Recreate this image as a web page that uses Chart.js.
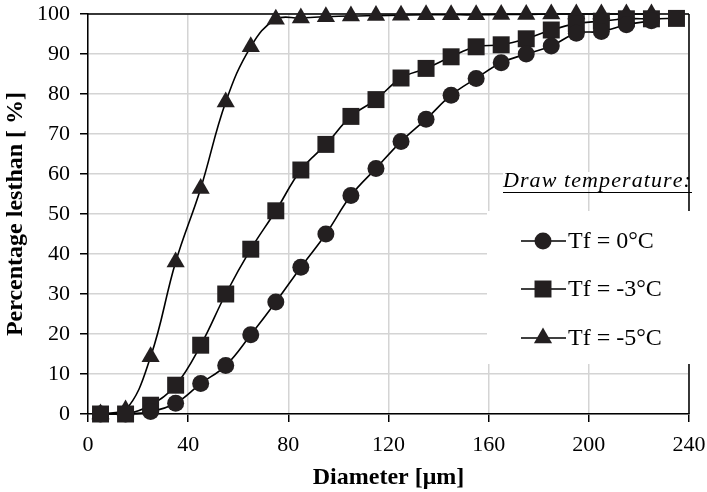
<!DOCTYPE html>
<html>
<head>
<meta charset="utf-8">
<script src="https://cdn.jsdelivr.net/npm/chart.js@4.4.1/dist/chart.umd.min.js"></script>
<style>
html,body{margin:0;padding:0;background:#fff;}
#wrap{width:707px;height:492px;position:relative;}
</style>
</head>
<body>
<div id="wrap"><canvas id="c" width="707" height="492"></canvas></div>
<script>
// ---- data ----
const diameters = [5,15,25,35,45,55,65,75,85,95,105,115,125,135,145,155,165,175,185,195,205,215,225,235];
const tf0 = [0,0,0.6,2.7,7.6,12.1,19.8,28,36.7,45,54.6,61.4,68.1,73.7,79.7,83.9,87.8,90,92,95.2,95.6,97.3,98.3];
const tfm3 = [0,0,2.2,7.2,17.2,30,41.2,50.8,61,67.4,74.4,78.6,84,86.4,89.3,91.8,92.3,93.8,96,97.6,98.2,98.8,98.8,98.9];
const tfm5 = [0,1,14.3,38,56.4,78,91.8,98.7,99,99.3,99.5,99.6,99.7,99.8,99.8,99.8,99.9,99.9,100,100,100,100,100];
const seriesNames = ['Tf = 0°C','Tf = -3°C','Tf = -5°C'];
const xTicks = [0,40,80,120,160,200,240];
const yTicks = [0,10,20,30,40,50,60,70,80,90,100];
const legendTitle = 'Draw temperature:';
const xTitle = 'Diameter [μm]';
const yTitle = 'Percentage lesthan [ %]';

const MARK = '#231f20';
const SERIF = "'Liberation Serif','Times New Roman',serif";

function pts(vals){ return vals.map((v,i)=>({x:diameters[i], y:v})); }

const styles = [
  {pointStyle:'circle', radius:8.5},
  {pointStyle:'rect', radius:12},
  {pointStyle:'triangle', radius:10.5}
];
const allVals = [tf0, tfm3, tfm5];

const datasets = allVals.map((vals,i)=>({
  label: seriesNames[i],
  data: pts(vals),
  borderColor: '#000',
  borderWidth: 1.6,
  backgroundColor: MARK,
  pointBackgroundColor: MARK,
  pointBorderColor: MARK,
  pointBorderWidth: 0,
  pointStyle: styles[i].pointStyle,
  pointRadius: styles[i].radius,
  pointHoverRadius: styles[i].radius,
  tension: 0.4,
  fill: false,
  clip: false,
  order: i
}));

function drawMarker(ctx, style, x, y, r){
  ctx.fillStyle = MARK;
  ctx.beginPath();
  if(style==='circle'){ ctx.arc(x,y,r,0,Math.PI*2); }
  else if(style==='rect'){ const s=Math.SQRT1_2*r; ctx.rect(x-s,y-s,2*s,2*s); }
  else { // triangle
    ctx.moveTo(x, y - r);
    ctx.lineTo(x + r*Math.cos(Math.PI/6), y + r*0.5);
    ctx.lineTo(x - r*Math.cos(Math.PI/6), y + r*0.5);
    ctx.closePath();
  }
  ctx.fill();
}

function noPad(s){ s.paddingLeft=0; s.paddingRight=0; s.paddingTop=0; s.paddingBottom=0; }

const framePlugin = {
  id:'frame',
  beforeDatasetsDraw(chart){
    const {ctx, chartArea:a} = chart;
    ctx.save();
    // hide the 60 gridline under the legend title
    ctx.fillStyle='#fff';
    ctx.fillRect(503, chart.scales.y.getPixelForValue(60)-2, a.right-503, 4);
    ctx.strokeStyle='#000'; ctx.lineWidth=1.5;
    ctx.beginPath();
    ctx.moveTo(a.left, a.top); ctx.lineTo(a.right, a.top);
    ctx.moveTo(a.right, a.top); ctx.lineTo(a.right, a.bottom);
    ctx.stroke();
    ctx.restore();
  },
  afterDraw(chart){
    const {ctx} = chart;
    ctx.save();
    // legend box
    ctx.fillStyle='#fff';
    ctx.fillRect(487, 211, 215, 153);
    // title with underline
    ctx.fillStyle='#000';
    ctx.font = "italic 22px " + SERIF;
    ctx.textBaseline='alphabetic';
    const chars = legendTitle.split('');
    const natural = ctx.measureText(legendTitle).width;
    const target = 187;
    const gap = (target - natural)/(chars.length-1);
    let xx = 503;
    chars.forEach(ch=>{ ctx.fillText(ch, xx, 187); xx += ctx.measureText(ch).width + gap; });
    ctx.strokeStyle='#000'; ctx.lineWidth=1.2;
    ctx.beginPath(); ctx.moveTo(503,192.5); ctx.lineTo(692,192.5); ctx.stroke();
    // entries
    const ys=[241,289,338];
    ctx.font = "24px " + SERIF;
    ctx.textBaseline='middle';
    seriesNames.forEach((name,i)=>{
      const y = ys[i];
      ctx.strokeStyle='#000'; ctx.lineWidth=1.6;
      ctx.beginPath(); ctx.moveTo(521,y); ctx.lineTo(566,y); ctx.stroke();
      drawMarker(ctx, styles[i].pointStyle, 543, y, styles[i].radius);
      ctx.fillStyle='#000';
      ctx.fillText(name, 568, y+1);
    });
    ctx.restore();
  }
};

new Chart(document.getElementById('c'), {
  type:'line',
  data:{datasets},
  options:{
    responsive:false,
    animation:false,
    devicePixelRatio:1,
    layout:{padding:{left:0,right:18,top:14,bottom:0}},
    plugins:{legend:{display:false}, tooltip:{enabled:false}},
    scales:{
      x:{
        type:'linear', min:0, max:240,
        afterFit(s){ s.height = 78; noPad(s); },
        afterBuildTicks(s){ s.ticks = xTicks.map(v=>({value:v})); },
        ticks:{color:'#000', font:{family:SERIF, size:22}, padding:10, maxRotation:0},
        grid:{color:'#d4d4d4', lineWidth:1.5, tickColor:'#000', tickLength:8, tickWidth:1.5},
        border:{color:'#000', width:1.5},
        title:{display:true, text:xTitle, color:'#000', font:{family:SERIF, size:24, weight:'bold'}, padding:{top:0,bottom:0}}
      },
      y:{
        type:'linear', min:0, max:100,
        afterFit(s){ s.width = 88; noPad(s); },
        afterBuildTicks(s){ s.ticks = yTicks.map(v=>({value:v})); },
        ticks:{color:'#000', font:{family:SERIF, size:22}, padding:10},
        grid:{color:'#d4d4d4', lineWidth:1.5, tickColor:'#000', tickLength:8, tickWidth:1.5},
        border:{color:'#000', width:1.5},
        title:{display:true, text:yTitle, color:'#000', font:{family:SERIF, size:24, weight:'bold'}, padding:{top:1,bottom:0}}
      }
    }
  },
  plugins:[framePlugin]
});
</script>
</body>
</html>
